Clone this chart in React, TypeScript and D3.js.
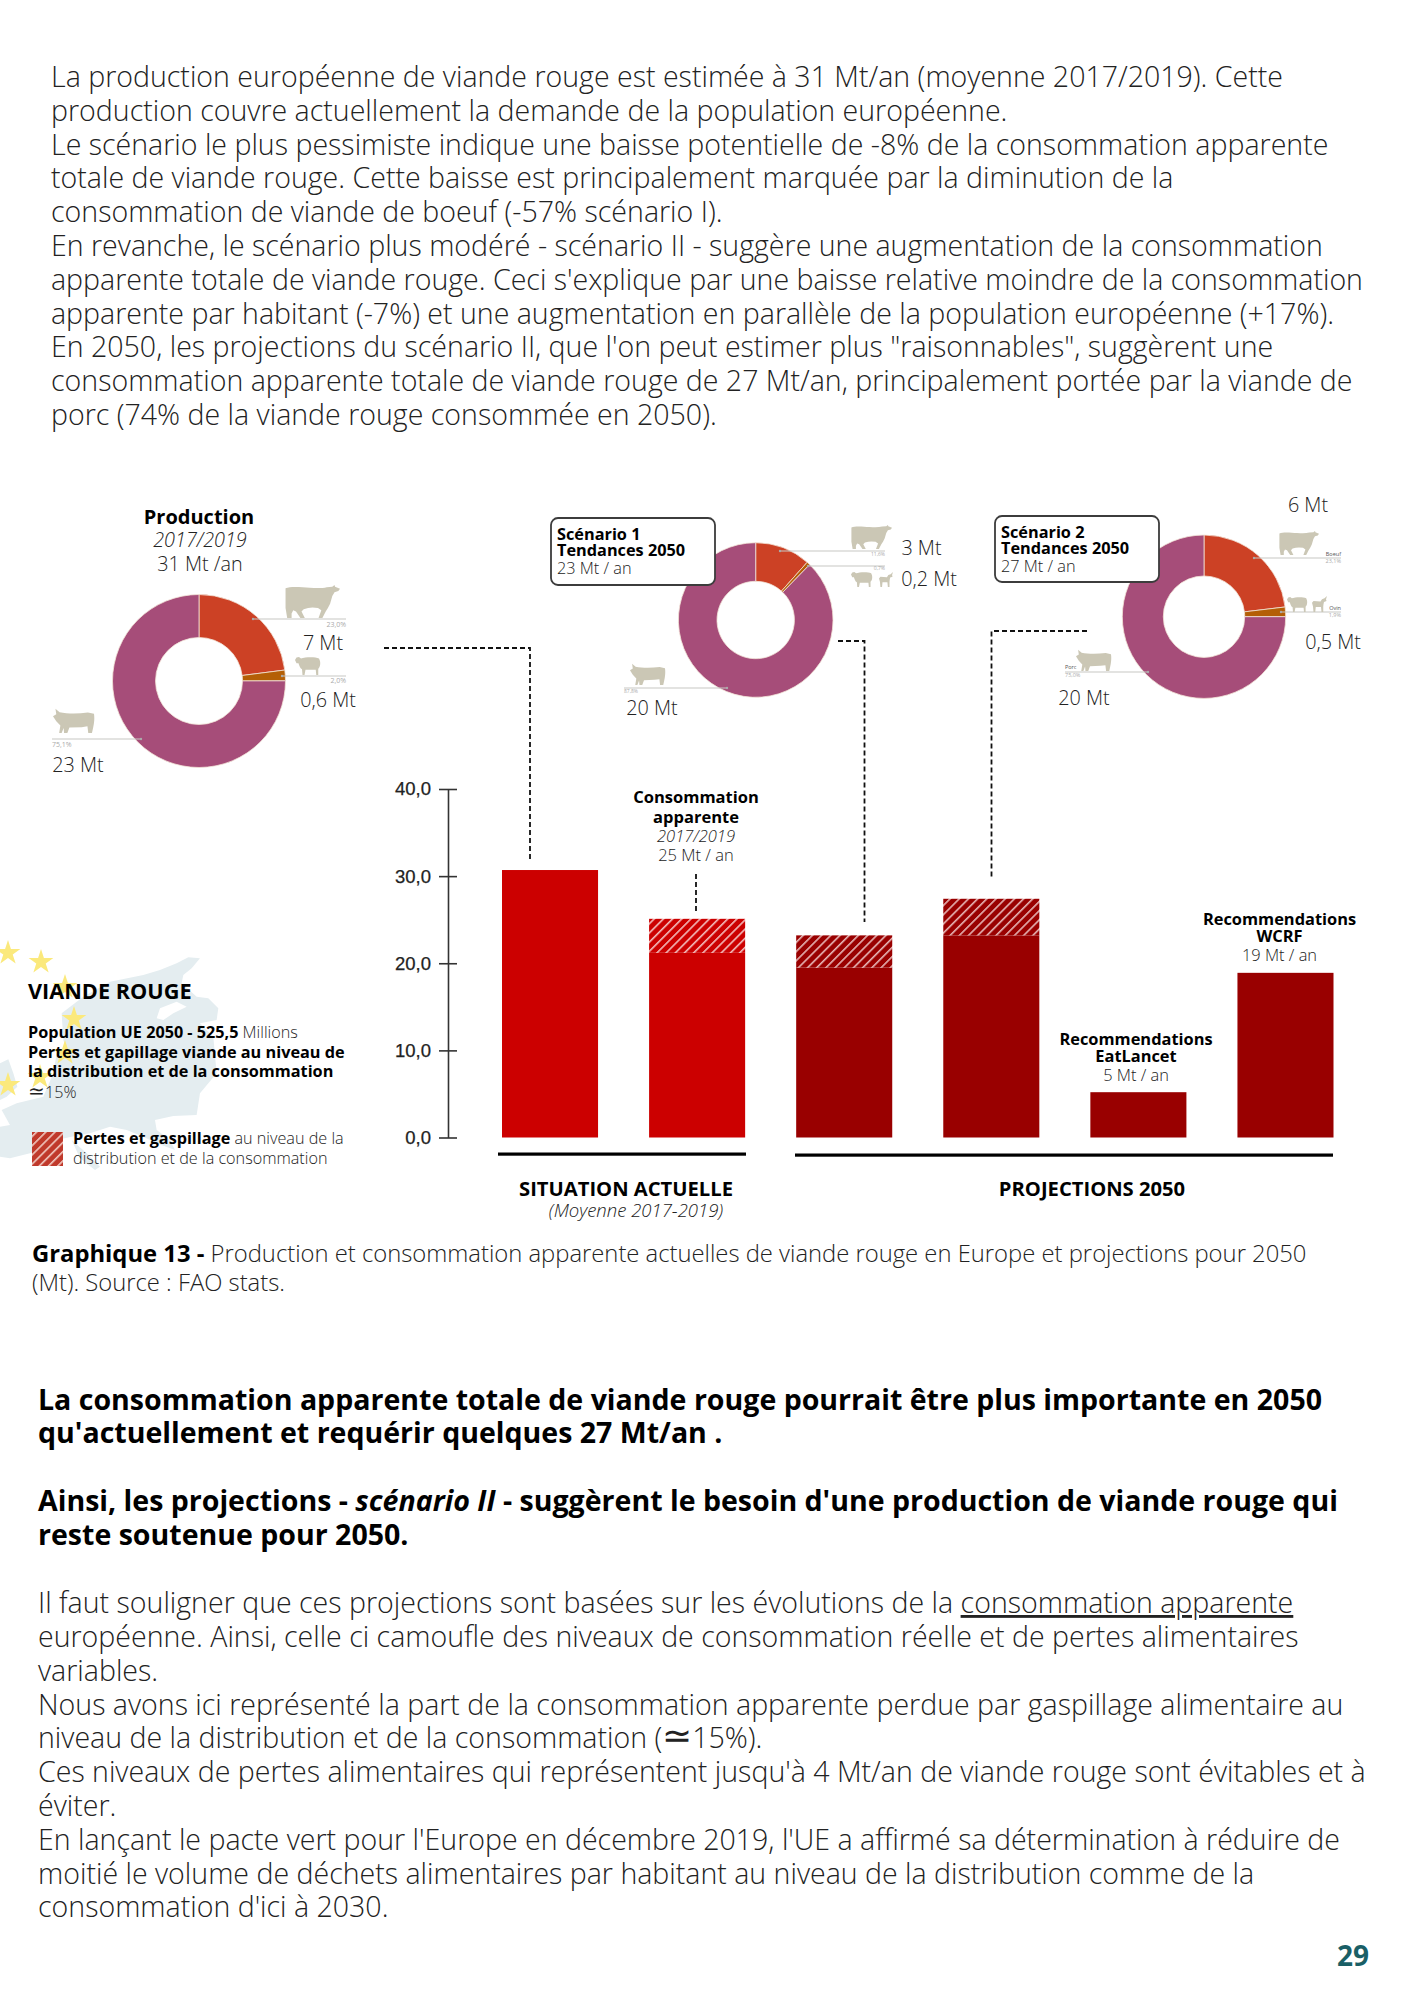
import { useEffect, useRef } from 'react'
import * as d3 from 'd3'

const W = 1414
const H = 2000
const FONT = '"Open Sans", "DejaVu Sans", sans-serif'

// ── données du graphique ──
const barCategories = ['Production', 'Consommation', 'Scénario 1', 'Scénario 2', 'EatLancet', 'WCRF']
const barTotals = [30.7, 25.1, 23.2, 27.4, 5.2, 18.9]
const barSolid = [30.7, 21.2, 19.5, 23.2, 5.2, 18.9]
const barColors = ['#cc0000', '#cc0000', '#990000', '#990000', '#990000', '#990000']
const axisTicks = [0, 10, 20, 30, 40]

const productionShares = [23.0, 2.0, 75.1]
const scenario1Shares = [11.6, 0.7, 87.8]
const scenario2Shares = [23.1, 1.9, 75.0]
const speciesColors = ['#cc4125', '#b45f06', '#a64d79']

const introLines = [
  'La production européenne de viande rouge est estimée à 31 Mt/an (moyenne 2017/2019). Cette',
  'production couvre actuellement la demande de la population européenne.',
  'Le scénario le plus pessimiste indique une baisse potentielle de -8% de la consommation apparente',
  'totale de viande rouge. Cette baisse est principalement marquée par la diminution de la',
  'consommation de viande de boeuf (-57% scénario I).',
  'En revanche, le scénario plus modéré - scénario II - suggère une augmentation de la consommation',
  "apparente totale de viande rouge. Ceci s'explique par une baisse relative moindre de la consommation",
  'apparente par habitant (-7%) et une augmentation en parallèle de la population européenne (+17%).',
  "En 2050, les projections du scénario II, que l'on peut estimer plus \"raisonnables\", suggèrent une",
  'consommation apparente totale de viande rouge de 27 Mt/an, principalement portée par la viande de',
  'porc (74% de la viande rouge consommée en 2050).',
]
const closingLines = [
  'européenne. Ainsi, celle ci camoufle des niveaux de consommation réelle et de pertes alimentaires',
  'variables.',
  'Nous avons ici représenté la part de la consommation apparente perdue par gaspillage alimentaire au',
  'niveau de la distribution et de la consommation (',
  "Ces niveaux de pertes alimentaires qui représentent jusqu'à 4 Mt/an de viande rouge sont évitables et à",
  'éviter.',
  "En lançant le pacte vert pour l'Europe en décembre 2019, l'UE a affirmé sa détermination à réduire de",
  'moitié le volume de déchets alimentaires par habitant au niveau de la distribution comme de la',
  "consommation d'ici à 2030.",
]

// silhouettes (boîte w × h)
const ICONS: Record<string, { w: number; h: number; d: string }> = {
  cow: { w: 100, h: 60, d: 'M1 6C10 2 30 4 45 5C58 6 68 6 76 4L86 3L90 0L91 3L100 7L97 11L90 13L86 20L82 34L78 42L74 48L68 60L61 60L66 46L60 42L50 41L42 42L34 44L30 48L36 60L28 60L20 48L15 46L12 52L12 60L4 60L1 42Z' },
  pig: { w: 100, h: 60, d: 'M0 20L8 15L6 2L16 10C35 14 60 14 85 11L100 14C102 28 100 40 95 60L86 60L84 44L70 46L40 47L35 60L27 60L26 48L21 60L15 60L18 42L8 32Z' },
  sheep: { w: 100, h: 70, d: 'M0 12L6 2L16 0L24 6C40 0 80 -2 96 6C104 20 102 38 93 46L93 70L85 70L83 50L42 50L38 70L30 70L28 48C20 44 16 30 14 24L6 24Z' },
  goat: { w: 60, h: 70, d: 'M60 0L56 14L58 22L48 26L46 36L45 46L45 70L38 70L36 48L15 48L13 70L6 70L4 46L0 30L6 22L34 24L40 14L50 10Z' },
}

// Europe en fond de la légende (coordonnées du recadrage ×3, origine 0,940)
const EUROPE = 'M565 52L600 55L575 85L550 105L545 130L590 170L625 175L655 205L650 240L600 250L640 290L650 400L600 460L590 525L520 528L465 540L470 570L510 600L525 630L470 610L430 590L380 570L330 560L270 580L215 590L170 600L140 620L90 640L30 655L0 650L0 560L30 555L5 510L50 490L130 470L160 400L170 340L200 330L190 300L185 220L250 170L330 125L430 105L480 90L530 70Z'
const BALTIC = 'M470 235L480 205L530 185L560 200L520 220L490 240Z'
const UK = 'M0 370L25 358L40 400L52 440L20 470L0 480Z'
const ITALY = 'M215 600L260 640L300 680L285 690L240 655Z'
const starPoints: [number, number][] = [[8, 953], [41, 962], [65, 987], [74, 1019], [65, 1053], [40, 1077], [8, 1085]]

const donuts = [
  {
    shares: productionShares, cx: 199, cy: 681, outer: 86.5, inner: 43.5,
    leaders: [
      { x1: 253, y: 619, x2: 346 }, { x1: 282, y: 676, x2: 346 }, { x1: 141, y: 739, x2: 52 },
    ],
    smalls: [
      { t: '23,0%', x: 346, y: 627, a: 'end' }, { t: '2,0%', x: 346, y: 683, a: 'end' }, { t: '75,1%', x: 52, y: 747, a: 'start' },
    ],
    smallSize: 7,
    values: [
      { t: '7 Mt', x: 323, y: 650 }, { t: '0,6 Mt', x: 328, y: 707 }, { t: '23 Mt', x: 78, y: 772 },
    ],
    icons: [
      { k: 'cow', x: 285, y: 585, w: 55, h: 33 }, { k: 'sheep', x: 295, y: 657, w: 25, h: 18 }, { k: 'pig', x: 53, y: 708, w: 41, h: 25 },
    ],
  },
  {
    shares: scenario1Shares, cx: 755.7, cy: 620, outer: 77.3, inner: 38.7,
    leaders: [
      { x1: 780, y: 551, x2: 885 }, { x1: 808, y: 566, x2: 885 }, { x1: 727, y: 688, x2: 624 },
    ],
    smalls: [
      { t: '11,6%', x: 885, y: 556, a: 'end' }, { t: '0,7%', x: 885, y: 570, a: 'end' }, { t: '87,8%', x: 624, y: 693, a: 'start' },
    ],
    smallSize: 5,
    values: [
      { t: '3 Mt', x: 921.5, y: 555 }, { t: '0,2 Mt', x: 929, y: 586 }, { t: '20 Mt', x: 652, y: 715 },
    ],
    icons: [
      { k: 'cow', x: 851, y: 525, w: 41, h: 24 }, { k: 'sheep', x: 851, y: 572, w: 21, h: 15 }, { k: 'goat', x: 879, y: 572, w: 14, h: 15 }, { k: 'pig', x: 630, y: 663, w: 35, h: 22 },
    ],
  },
  {
    shares: scenario2Shares, cx: 1204, cy: 616.7, outer: 81.7, inner: 40.7,
    leaders: [
      { x1: 1254, y: 558, x2: 1341 }, { x1: 1281, y: 612, x2: 1341 }, { x1: 1148, y: 672, x2: 1065 },
    ],
    smalls: [
      { t: 'Boeuf', x: 1341, y: 556, a: 'end', dark: true }, { t: '23,1%', x: 1341, y: 563, a: 'end' },
      { t: 'Ovin', x: 1341, y: 610, a: 'end', dark: true }, { t: '1,9%', x: 1341, y: 617, a: 'end' },
      { t: 'Porc', x: 1065, y: 669, a: 'start', dark: true }, { t: '75,0%', x: 1065, y: 677, a: 'start' },
    ],
    smallSize: 5.5,
    values: [
      { t: '6 Mt', x: 1308, y: 512 }, { t: '0,5 Mt', x: 1333, y: 649 }, { t: '20 Mt', x: 1084, y: 705 },
    ],
    icons: [
      { k: 'cow', x: 1279, y: 531, w: 40, h: 24 }, { k: 'sheep', x: 1287, y: 597, w: 20, h: 15 }, { k: 'goat', x: 1312, y: 596, w: 15, h: 16 }, { k: 'pig', x: 1076, y: 649, w: 35, h: 22 },
    ],
  },
]

const connectors = [
  { pts: [[384, 648], [530, 648], [530, 859]] },
  { pts: [[696, 874], [696, 912]] },
  { pts: [[838, 641], [864.5, 641], [864.5, 922]] },
  { pts: [[1087, 631], [991.5, 631], [991.5, 879]] },
]

export default function App() {
  const svgRef = useRef<SVGSVGElement>(null)

  useEffect(() => {
    const svg = d3.select(svgRef.current)
    svg.selectAll('*').remove()
    svg.attr('viewBox', `0 0 ${W} ${H}`).attr('font-family', FONT)

    const txt = (g: any, s: string, x: number, y: number, size: number, weight = 300, anchor = 'start', fill = '#222', italic = false) =>
      g.append('text').attr('x', x).attr('y', y).attr('font-size', size).attr('font-weight', weight)
        .attr('text-anchor', anchor).attr('fill', fill).attr('font-style', italic ? 'italic' : 'normal').text(s)
    // le signe ≃ n'existe pas en Open Sans
    const approx = (node: any) =>
      node.append('tspan').attr('font-family', '"DejaVu Sans"').attr('font-weight', 200).attr('font-size', '1.25em').text('≃')

    // ── hachures ──
    const defs = svg.append('defs')
    const hatch = (id: string, base: string, stripe: string) => {
      const p = defs.append('pattern').attr('id', id).attr('patternUnits', 'userSpaceOnUse')
        .attr('width', 6.5).attr('height', 6.5).attr('patternTransform', 'rotate(45)')
      p.append('rect').attr('width', 6.5).attr('height', 6.5).attr('fill', base)
      p.append('rect').attr('width', 1.6).attr('height', 6.5).attr('fill', stripe)
    }
    hatch('hatch-cc0000', '#cc0000', '#f2bcbc')
    hatch('hatch-990000', '#990000', '#e5b5b5')
    hatch('hatch-legend', '#c0392b', '#f0c8c0')

    // ── texte d'introduction ──
    introLines.forEach((l, i) => txt(svg, l, 51, 87 + i * 33.8, 28.54))

    // ── fond Europe + étoiles ──
    const map = svg.append('g').attr('transform', 'translate(0,940) scale(0.3333)')
    ;[EUROPE, UK, ITALY].forEach((d) => map.append('path').attr('d', d).attr('fill', '#e4edf0'))
    map.append('path').attr('d', BALTIC).attr('fill', '#fff')
    const star = d3.symbol().type(d3.symbolStar).size(190)
    starPoints.forEach(([x, y]) =>
      svg.append('path').attr('d', star()!).attr('transform', `translate(${x},${y})`).attr('fill', '#fbe97c'))

    // ── donuts ──
    const pie = d3.pie<number>().sort(null).value((d) => d)
    donuts.forEach((dn) => {
      const g = svg.append('g').attr('transform', `translate(${dn.cx},${dn.cy})`)
      const arc = d3.arc<d3.PieArcDatum<number>>().innerRadius(dn.inner).outerRadius(dn.outer)
      g.selectAll('path').data(pie(dn.shares)).join('path')
        .attr('d', arc).attr('fill', (_, i) => speciesColors[i])
        .attr('stroke', '#f3e4d8').attr('stroke-width', 0.8)

      dn.leaders.forEach((l) => {
        svg.append('line').attr('x1', l.x1).attr('x2', l.x2).attr('y1', l.y).attr('y2', l.y)
          .attr('stroke', '#c8c8c4').attr('stroke-width', 1.2)
        svg.append('circle').attr('cx', l.x1).attr('cy', l.y).attr('r', 1.2).attr('fill', '#aaa')
      })
      dn.smalls.forEach((s: any) =>
        txt(svg, s.t, s.x, s.y, dn.smallSize, 400, s.a, s.dark ? '#555' : '#aaa'))
      dn.values.forEach((v) => txt(svg, v.t, v.x, v.y, 19.8, 300, 'middle'))
      dn.icons.forEach((ic) => {
        const sh = ICONS[ic.k]
        svg.append('path').attr('d', sh.d).attr('fill', '#cbc7b5')
          .attr('transform', `translate(${ic.x},${ic.y}) scale(${ic.w / sh.w},${ic.h / sh.h})`)
      })
    })

    // ── cartouches ──
    ;[
      { x: 551, y: 518, w: 164, h: 67, a: 'Scénario 1', c: '23 Mt / an' },
      { x: 995, y: 516, w: 164, h: 66, a: 'Scénario 2', c: '27 Mt / an' },
    ].forEach((b) => {
      svg.append('rect').attr('x', b.x).attr('y', b.y).attr('width', b.w).attr('height', b.h).attr('rx', 7)
        .attr('fill', '#fff').attr('stroke', '#3c3c3c').attr('stroke-width', 1.8)
      txt(svg, b.a, b.x + 6, b.y + 22, 16.3, 700, 'start', '#000')
      txt(svg, 'Tendances 2050', b.x + 6, b.y + 38, 16.3, 700, 'start', '#000')
      txt(svg, b.c, b.x + 6, b.y + 56, 16.3)
    })

    // ── barres ──
    const x = d3.scaleBand().domain(barCategories).range([502, 1333.5]).paddingInner(0.347)
    const y = d3.scaleLinear().domain([0, 40]).range([1137.5, 789])
    barCategories.forEach((c, i) => {
      const id = barColors[i].slice(1)
      svg.append('rect').attr('x', x(c)!).attr('width', x.bandwidth())
        .attr('y', y(barSolid[i])).attr('height', y(0) - y(barSolid[i])).attr('fill', barColors[i])
      if (barTotals[i] > barSolid[i]) {
        svg.append('rect').attr('x', x(c)!).attr('width', x.bandwidth())
          .attr('y', y(barTotals[i])).attr('height', y(barSolid[i]) - y(barTotals[i]))
          .attr('fill', `url(#hatch-${id})`)
      }
    })

    const axis = svg.append('g').attr('transform', 'translate(448,0)')
      .call(d3.axisLeft(y).tickValues(axisTicks).tickSize(0).tickPadding(17)
        .tickFormat((d) => d3.format('.1f')(d as number).replace('.', ',')))
    axis.select('.domain').attr('stroke', '#333').attr('stroke-width', 1.6)
    axis.selectAll('.tick line').attr('x1', -9).attr('x2', 9).attr('stroke', '#333').attr('stroke-width', 1.6)
    axis.selectAll('text').attr('font-size', 18.5).attr('font-family', '"Liberation Sans", sans-serif')
      .attr('fill', '#222').attr('stroke', '#222').attr('stroke-width', 0.25)

    // ── connecteurs pointillés ──
    const ln = d3.line()
    connectors.forEach((c) =>
      svg.append('path').attr('d', ln(c.pts as [number, number][])).attr('fill', 'none')
        .attr('stroke', '#111').attr('stroke-width', 1.8).attr('stroke-dasharray', '5 3'))

    // ── annotations ──
    txt(svg, 'Production', 199, 524, 20, 700, 'middle', '#000')
    txt(svg, '2017/2019', 200, 547, 19.8, 300, 'middle', '#222', true)
    txt(svg, '31 Mt /an', 200, 571, 19.8, 300, 'middle')

    txt(svg, 'Consommation', 696, 803, 16.5, 700, 'middle', '#000')
    txt(svg, 'apparente', 696, 823, 16.5, 700, 'middle', '#000')
    txt(svg, '2017/2019', 696, 842, 16.5, 300, 'middle', '#222', true)
    txt(svg, '25 Mt / an', 696, 861, 16.5, 300, 'middle')

    txt(svg, 'Recommendations', 1136, 1045, 16.4, 700, 'middle', '#000')
    txt(svg, 'EatLancet', 1136, 1062, 16.4, 700, 'middle', '#000')
    txt(svg, '5 Mt / an', 1136, 1081, 16.4, 300, 'middle')
    txt(svg, 'Recommendations', 1279.5, 925, 16.4, 700, 'middle', '#000')
    txt(svg, 'WCRF', 1279.5, 942, 16.4, 700, 'middle', '#000')
    txt(svg, '19 Mt / an', 1279.5, 961, 16.4, 300, 'middle')

    // ── regroupements ──
    svg.append('rect').attr('x', 498).attr('y', 1152.5).attr('width', 248).attr('height', 3.2).attr('fill', '#000')
    svg.append('rect').attr('x', 795).attr('y', 1153.5).attr('width', 538).attr('height', 3.2).attr('fill', '#000')
    txt(svg, 'SITUATION ACTUELLE', 626, 1196, 20.2, 700, 'middle', '#000')
    txt(svg, '(Moyenne 2017-2019)', 636, 1217, 18.5, 300, 'middle', '#222', true)
    txt(svg, 'PROJECTIONS 2050', 1092, 1196, 20.2, 700, 'middle', '#000')

    // ── légende gauche ──
    txt(svg, 'VIANDE ROUGE', 28, 999, 21.7, 700, 'start', '#000')
    const pop = txt(svg, 'Population UE 2050 - 525,5', 28, 1038, 16.2, 700, 'start', '#000')
    pop.append('tspan').attr('font-weight', 300).attr('fill', '#222').text(' Millions')
    txt(svg, 'Pertes et gapillage viande au niveau de', 28, 1058, 16.25, 700, 'start', '#000')
    txt(svg, 'la distribution et de la consommation', 28, 1077, 16.25, 700, 'start', '#000')
    const pct = txt(svg, '', 28, 1098, 16.2)
    approx(pct)
    pct.append('tspan').text('15%')
    svg.append('rect').attr('x', 32).attr('y', 1132).attr('width', 31).attr('height', 34).attr('fill', 'url(#hatch-legend)')
    const leg = txt(svg, 'Pertes et gaspillage', 73, 1144, 16.2, 700, 'start', '#000')
    leg.append('tspan').attr('font-weight', 300).attr('fill', '#222').text(' au niveau de la')
    txt(svg, 'distribution et de la consommation', 73, 1164, 16.2)

    // ── légende du graphique ──
    const cap = txt(svg, 'Graphique 13 - ', 32, 1262, 23.8, 700, 'start', '#000')
    cap.append('tspan').attr('font-weight', 300).attr('fill', '#222')
      .text('Production et consommation apparente actuelles de viande rouge en Europe et projections pour 2050')
    txt(svg, '(Mt). Source : FAO stats.', 32, 1291, 23.8)

    // ── conclusions ──
    const bold = 28.54
    txt(svg, 'La consommation apparente totale de viande rouge pourrait être plus importante en 2050', 38, 1410, bold, 700, 'start', '#000')
    txt(svg, "qu'actuellement et requérir quelques 27 Mt/an .", 38, 1443, bold, 700, 'start', '#000')
    const sc = txt(svg, 'Ainsi, les projections - ', 38, 1511, bold, 700, 'start', '#000')
    sc.append('tspan').attr('font-style', 'italic').text('scénario II')
    sc.append('tspan').text(" - suggèrent le besoin d'une production de viande rouge qui")
    txt(svg, 'reste soutenue pour 2050.', 38, 1545, bold, 700, 'start', '#000')

    const first = txt(svg, 'Il faut souligner que ces projections sont basées sur les évolutions de la ', 38, 1613, 28.54)
    first.append('tspan').attr('text-decoration', 'underline').text('consommation apparente')
    closingLines.forEach((l, i) => {
      const t = txt(svg, l, 38, 1647 + i * 33.8, 28.54)
      if (l.endsWith('(')) {
        approx(t)
        t.append('tspan').text('15%).')
      }
    })

    txt(svg, '29', 1369, 1966, 28, 700, 'end', '#1a5f66')
  }, [])

  return <svg ref={svgRef} width={W} height={H} style={{ position: 'absolute', left: 0, top: 0 }} />
}
